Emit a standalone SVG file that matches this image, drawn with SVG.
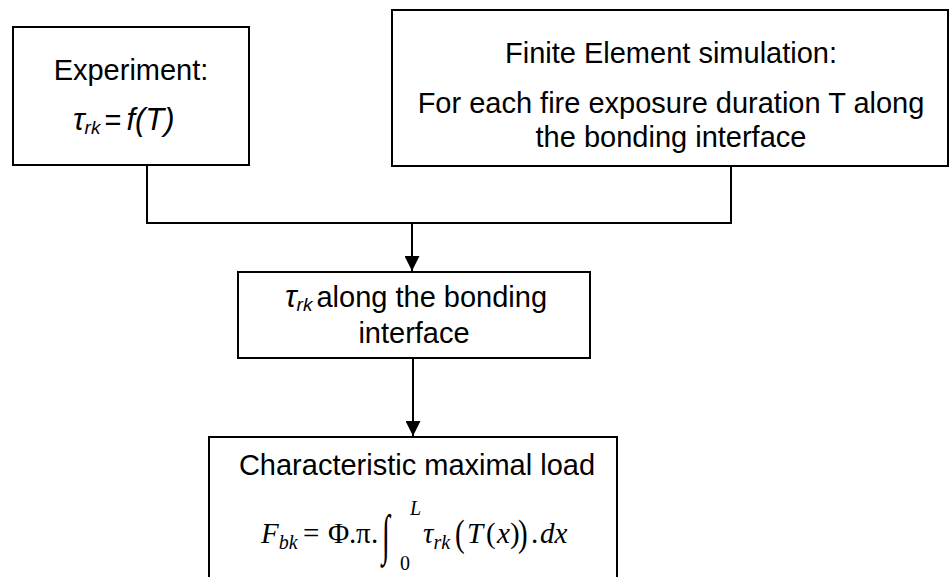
<svg xmlns="http://www.w3.org/2000/svg" width="950" height="577" viewBox="0 0 950 577">
<defs>
<style>
.box{fill:#fff;stroke:#000;stroke-width:2}
.t{font-family:"Liberation Sans",Arial,sans-serif;font-size:29px;fill:#000}
.m{font-family:"Liberation Serif","DejaVu Serif",serif;font-size:29px;font-style:italic;fill:#000}
.mr{font-family:"Liberation Serif","DejaVu Serif",serif;font-size:29px;fill:#000}
.s{font-size:20px}
.c{fill:none;stroke:#000;stroke-width:2}
</style>
<marker id="ah" viewBox="0 0 10 10" refX="10" refY="5" markerWidth="7.5" markerHeight="7.5" orient="auto" markerUnits="strokeWidth">
<path d="M0,0 L10,5 L0,10 z" fill="#000"/>
</marker>
</defs>
<rect width="950" height="577" fill="#fff"/>
<g id="connectors">
<polyline class="c" points="147,165 147,223 731,223 731,166"/>
<line class="c" x1="412" y1="223" x2="412" y2="271" marker-end="url(#ah)"/>
<line class="c" x1="413" y1="358" x2="413" y2="436" marker-end="url(#ah)"/>
</g>
<g id="experiment">
<rect class="box" x="13" y="27" width="236" height="138"/>
<text class="t" x="131" y="80" text-anchor="middle">Experiment:</text>
<text class="t" x="73" y="130"><tspan font-style="italic" font-size="31">τ</tspan><tspan font-style="italic" font-size="19" dy="4">rk</tspan><tspan dy="-4" dx="4">=</tspan><tspan dx="5" font-style="italic" font-size="31">f(T)</tspan></text>
</g>
<g id="fe">
<rect class="box" x="392" y="10" width="556" height="156"/>
<text class="t" x="671" y="63" text-anchor="middle">Finite Element simulation:</text>
<text class="t" x="671" y="113" text-anchor="middle">For each fire exposure duration T along</text>
<text class="t" x="671" y="147" text-anchor="middle">the bonding interface</text>
</g>
<g id="tau">
<rect class="box" x="238" y="272" width="352" height="86"/>
<text class="t" x="285" y="307"><tspan font-style="italic" font-size="31">τ</tspan><tspan font-style="italic" font-size="19" dy="4">rk</tspan><tspan dy="-4" dx="4">along the bonding</tspan></text>
<text class="t" x="414" y="343" text-anchor="middle">interface</text>
</g>
<g id="load">
<rect class="box" x="209" y="437" width="408" height="150"/>
<text class="t" x="417" y="475" text-anchor="middle">Characteristic maximal load</text>
<text class="m" x="261" y="543">F<tspan class="s" dy="6">bk</tspan></text>
<text class="mr" x="303" y="543">=</text>
<text class="mr" x="328" y="543">Φ</text>
<text class="mr" x="349" y="543">.</text>
<text class="mr" x="356" y="543">π</text>
<text class="mr" x="371" y="543">.</text>
<text class="mr" transform="translate(382,553) scale(1,1.9)" font-size="34">∫</text>
<text class="m s" x="410" y="515">L</text>
<text class="mr s" x="400" y="570">0</text>
<text class="m" x="423" y="543">τ<tspan class="s" dy="6">rk</tspan></text>
<text class="mr" transform="translate(455,546) scale(1,1.3)" font-size="30">(</text>
<text class="m" x="467" y="543">T</text>
<text class="mr" x="486" y="543">(</text>
<text class="m" x="497" y="543">x</text>
<text class="mr" x="510" y="543">)</text>
<text class="mr" transform="translate(518,546) scale(1,1.3)" font-size="30">)</text>
<text class="mr" x="531" y="543">.</text>
<text class="m" x="540" y="543">dx</text>
</g>
</svg>
